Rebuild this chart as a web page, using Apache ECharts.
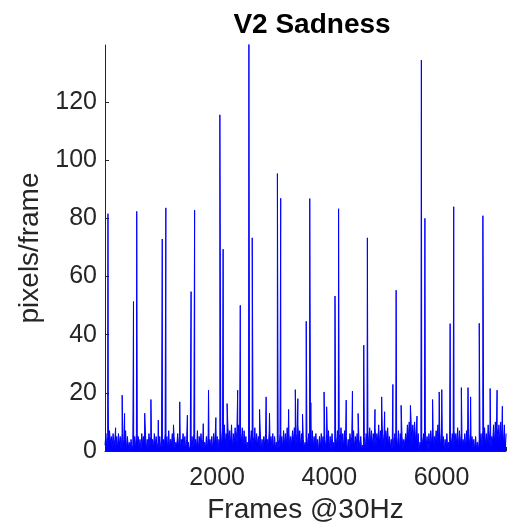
<!DOCTYPE html>
<html><head><meta charset="utf-8">
<script src="https://cdn.jsdelivr.net/npm/echarts@6/dist/echarts.min.js"></script>
<style>html,body{margin:0;padding:0;background:#fff}#c{width:509px;height:531px}</style>
</head><body><div id="c"></div>
<script>
const chartTitle = 'V2 Sadness';
const xName = 'Frames @30Hz';
const yName = 'pixels/frame';
const frameStep = 16;
// background noise band (one value every 16 frames)
const baseline = [
2,6,1,5,0,7,3,5,1,6,2,4,0,5,1,6,
2,5,0,6,1,4,2,7,0,5,1,3,0,4,1,2,
0,5,1,6,2,5,1,4,0,6,2,5,1,7,0,4,
1,6,2,5,0,4,1,6,2,5,1,3,0,5,1,2,
0,4,1,6,2,5,0,7,1,4,2,6,0,5,1,3,
2,6,1,5,0,4,2,6,1,5,0,4,1,3,0,2,
0,5,1,6,2,4,1,7,0,5,2,6,1,4,0,3,
1,5,0,6,2,4,1,5,0,6,2,7,1,5,0,4,
2,8,1,7,3,9,2,6,1,8,3,7,2,9,1,6,
2,8,3,7,1,9,2,6,3,8,1,7,2,5,0,3,
1,6,2,7,1,5,3,8,1,6,2,5,1,7,0,4,
1,5,2,6,0,4,1,7,2,5,1,6,0,5,1,3,
0,4,1,6,2,5,1,7,2,6,1,8,2,6,1,5,
2,7,3,8,1,6,2,9,3,7,1,6,0,4,1,3,
0,5,1,6,2,5,0,7,1,5,2,6,1,4,0,5,
1,6,2,5,0,4,1,6,2,7,1,5,0,6,1,3,
0,5,2,7,1,6,3,8,2,6,1,7,2,5,0,4,
1,6,2,5,0,7,1,5,2,6,0,4,1,5,0,2,
1,5,0,6,2,7,1,8,3,7,2,6,1,8,2,6,
3,9,2,7,1,8,2,6,1,7,3,8,2,5,1,4,
0,5,1,6,2,5,1,7,0,6,2,5,1,4,2,6,
3,9,4,10,3,11,2,9,4,10,3,8,1,6,0,3,
1,5,2,6,1,7,2,5,0,6,1,7,2,8,1,5,
2,7,3,9,2,8,1,6,2,5,0,4,1,6,0,3,
1,5,2,6,1,7,3,6,2,8,1,7,2,6,1,4,
2,6,1,7,2,8,1,6,2,5,1,4,0,5,1,3,
0,4,2,6,1,7,3,8,2,6,1,9,2,7,1,5,
3,9,2,10,3,8,4,9,2,10,3,8,2,9,1,6
];
// smaller peaks above the band
const minorFrames = [58,189,306,349,708,819,950,1221,1333,1469,1752,1846,1977,2177,2366,2756,2873,2933,3274,3393,3439,3522,3670,3906,3952,4301,4412,4513,4814,4933,4986,5133,5280,5446,5563,5841,5959,6005,6354,6473,6519,6867,6991,7085];
const minorValues = [15.7,8,19.2,12.9,13,17.7,10.6,9,16.9,12.3,9.4,20.9,11.5,16.3,20.9,14.3,18.6,13,14.3,21.1,18,12.7,16.6,20.3,15.2,17.5,20.6,12.9,14.3,18.6,13.5,22.9,15.7,15.7,12,17.7,20.3,21.1,21.8,21.8,18.6,21.5,20.9,15.4];
// large spikes
const spikeFrames = [53,508,566,1021,1085,1535,1598,2048,2106,2412,2566,2625,3074,3133,3588,3651,4101,4165,4614,4678,5191,5641,5704,6154,6218,6673,6738];
const spikeValues = [81.6,51.4,82.4,72.9,83.6,54.8,82.8,115.6,69.4,50.1,145,73.3,95.4,86.9,44.6,86.8,53.3,83.3,36.4,73.3,55.3,134.4,80,43.8,84,43.9,80.9];
const xTicks = [2000,4000,6000];
const yTicks = [0,20,40,60,80,100,120];
const xMax = 7150, yMax = 139.6;

const pts = [];
baseline.forEach((v,i)=>pts.push([i*frameStep, v]));
minorFrames.forEach((f,i)=>pts.push([f, minorValues[i]]));
spikeFrames.forEach((f,i)=>pts.push([f, spikeValues[i]]));
pts.sort((a,b)=>a[0]-b[0]);

const axisCol = '#262626';
const font = 'Liberation Sans, Arial, Helvetica, sans-serif';
const chart = echarts.init(document.getElementById('c'), null, {renderer:'canvas'});
chart.setOption({
  animation:false,
  backgroundColor:'#fff',
  title:{text:chartTitle,left:307,textAlign:'center',top:6,
    textStyle:{fontFamily:font,fontSize:28,fontWeight:'bold',color:'#000'}},
  grid:{left:105,right:0,top:45,bottom:80,containLabel:false},
  xAxis:{type:'value',min:0,max:xMax,interval:2000,
    name:xName,nameLocation:'middle',nameGap:31,
    nameTextStyle:{fontFamily:font,fontSize:28,color:axisCol},
    axisLine:{show:true,lineStyle:{color:axisCol,width:1}},
    axisTick:{show:true,inside:true,length:4,lineStyle:{color:axisCol}},
    axisLabel:{fontFamily:font,fontSize:25,color:axisCol,margin:15,
      formatter:v=>xTicks.includes(v)?String(v):''},
    splitLine:{show:false}},
  yAxis:{type:'value',min:0,max:yMax,interval:20,
    name:yName,nameLocation:'middle',nameGap:58,
    nameTextStyle:{fontFamily:font,fontSize:28,color:axisCol},
    axisLine:{show:true,lineStyle:{color:axisCol,width:1}},
    axisTick:{show:true,inside:true,length:4,lineStyle:{color:axisCol}},
    axisLabel:{fontFamily:font,fontSize:25,color:axisCol,margin:8,
      showMaxLabel:false,
      formatter:v=>yTicks.includes(v)?String(v):''},
    splitLine:{show:false}},
  series:[{type:'line',data:pts,showSymbol:false,symbol:'none',
    lineStyle:{color:'#0000ff',width:1},
    areaStyle:{color:'#0000ff',opacity:1,origin:'start'},clip:true}]
});
</script></body></html>
